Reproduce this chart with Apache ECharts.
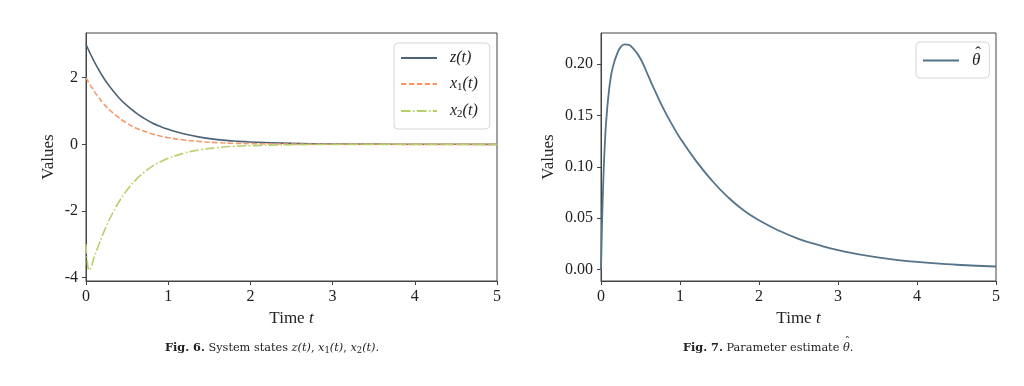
<!DOCTYPE html>
<html>
<head>
<meta charset="utf-8">
<script src="https://cdn.jsdelivr.net/npm/echarts@6/dist/echarts.min.js"></script>
<style>
html,body{margin:0;padding:0;background:#fff;}
#c{width:1024px;height:386px;}
</style>
</head>
<body>
<div id="c"></div>
<script>
// ---- data ----
const tState = [0,0.02,0.04,0.06,0.08,0.1,0.15,0.2,0.25,0.3,0.4,0.5,0.6,0.7,0.8,0.9,1.0,1.2,1.4,1.6,1.8,2.0,2.5,3,3.5,4,4.5,5];
const zVals  = [3.00,2.89,2.78,2.68,2.58,2.48,2.26,2.05,1.86,1.70,1.40,1.16,0.96,0.79,0.65,0.54,0.45,0.31,0.21,0.14,0.10,0.07,0.03,0.01,0.005,0.002,0.001,0.0];
const x1Vals = [2.00,1.91,1.83,1.74,1.67,1.59,1.42,1.26,1.12,1.00,0.80,0.63,0.50,0.40,0.32,0.25,0.20,0.13,0.08,0.05,0.03,0.02,0.006,0.002,0.001,0,0,0];
const x2Vals = [-3.00,-3.62,-3.78,-3.70,-3.55,-3.38,-3.05,-2.73,-2.44,-2.18,-1.73,-1.37,-1.08,-0.85,-0.67,-0.53,-0.42,-0.26,-0.16,-0.10,-0.06,-0.04,-0.012,-0.004,-0.001,0,0,0];

const tTheta = [0,0.01,0.02,0.03,0.04,0.05,0.06,0.08,0.1,0.12,0.15,0.2,0.25,0.3,0.35,0.4,0.45,0.5,0.55,0.6,0.7,0.8,0.9,1.0,1.2,1.4,1.6,1.8,2.0,2.25,2.5,2.75,3,3.5,4,4.5,5];
const thetaVals = [0,0.035,0.064,0.088,0.108,0.124,0.138,0.158,0.173,0.185,0.197,0.209,0.2165,0.219,0.2185,0.2155,0.211,0.205,0.197,0.188,0.171,0.155,0.141,0.128,0.106,0.087,0.071,0.058,0.048,0.038,0.030,0.024,0.019,0.012,0.0075,0.0048,0.0031];

const xTicks = [0,1,2,3,4,5];
const yTicksLeft = [-4,-2,0,2];
const yTicksRight = [0,0.05,0.10,0.15,0.20];

const pair = (t, v) => t.map((x, i) => [x, v[i]]);

const SERIF = '"Liberation Serif","DejaVu Serif",serif';
const CAP = '"DejaVu Serif","Liberation Serif",serif';
const CAPSIZE = 11.3;
const CAPTOP = 343;
const C_Z = '#4c6377', C_X1 = '#f7986a', C_X2 = '#b7d06a', C_TH = '#557489';

function xAxisCfg(gi) {
  return {
    type: 'value', gridIndex: gi, min: 0, max: 5,
    name: 'Time {i|t}', nameLocation: 'middle', nameGap: 28,
    nameTextStyle: { fontFamily: SERIF, fontSize: 17, color: '#222',
      rich: { i: { fontFamily: SERIF, fontStyle: 'italic', fontSize: 17, color: '#222' } } },
    axisLine: { show: true, onZero: false, lineStyle: { color: '#444', width: 1 } },
    axisTick: { show: true, length: 4, customValues: xTicks, lineStyle: { color: '#444' } },
    axisLabel: { customValues: xTicks, fontFamily: SERIF, fontSize: 16, color: '#222', margin: 8 },
    splitLine: { show: false }
  };
}
function yAxisCfg(gi, min, max, ticks, fmt, gap) {
  return {
    type: 'value', gridIndex: gi, min: min, max: max,
    name: 'Values', nameLocation: 'middle', nameGap: gap, nameRotate: 90,
    nameTextStyle: { fontFamily: SERIF, fontSize: 17, color: '#222' },
    axisLine: { show: true, onZero: false, lineStyle: { color: '#444', width: 1 } },
    axisTick: { show: true, length: 4, customValues: ticks, lineStyle: { color: '#444' } },
    axisLabel: { customValues: ticks, formatter: fmt, fontFamily: SERIF, fontSize: 16, color: '#222', margin: 8 },
    splitLine: { show: false }
  };
}

// measure caption text to place the hat over theta
const mctx = document.createElement('canvas').getContext('2d');
function tw(font, s) { mctx.font = font; return mctx.measureText(s).width; }
const capLeft2 = 683;
const thetaX = capLeft2 + tw('bold ' + CAPSIZE + 'px ' + CAP, 'Fig. 7.') + tw(CAPSIZE + 'px ' + CAP, ' Parameter estimate ');
const thetaW = tw('italic ' + CAPSIZE + 'px ' + CAP, 'θ');

const chart = echarts.init(document.getElementById('c'), null, { renderer: 'canvas' });
const legendText = {
  fontFamily: SERIF, fontSize: 15, color: '#222', padding: [0, 0, 0, 8],
  rich: {
    i: { fontFamily: SERIF, fontStyle: 'italic', fontSize: 16, color: '#222' },
    s: { fontFamily: SERIF, fontSize: 11, color: '#222', padding: [7, 0, 0, 0] },
    h: { fontFamily: SERIF, fontStyle: 'italic', fontSize: 17, color: '#222' }
  }
};
const legendCommon = {
  orient: 'vertical', itemWidth: 36, itemHeight: 12,
  backgroundColor: '#fff', borderColor: '#d6d6d6', borderWidth: 1, borderRadius: 4,
  itemStyle: { opacity: 0, borderWidth: 0 },
  textStyle: legendText
};
chart.setOption({
  animation: false,
  backgroundColor: '#fff',
  grid: [
    { left: 86, top: 33, width: 411, height: 248, show: true, borderColor: '#444', borderWidth: 1, backgroundColor: 'transparent' },
    { left: 601, top: 33, width: 395, height: 248, show: true, borderColor: '#444', borderWidth: 1, backgroundColor: 'transparent' }
  ],
  xAxis: [xAxisCfg(0), xAxisCfg(1)],
  yAxis: [
    yAxisCfg(0, -4.1, 3.34, yTicksLeft, v => String(v), 29),
    yAxisCfg(1, -0.011, 0.230, yTicksRight, v => v.toFixed(2), 44)
  ],
  legend: [
    Object.assign({}, legendCommon, {
      data: ['z', 'x1', 'x2'], left: 394, top: 43, itemGap: 10,
      padding: [7, 12, 9, 6],
      formatter: n => n === 'z' ? '{i|z}{i|(t)}' : (n === 'x1' ? '{i|x}{s|1}{i|(t)}' : '{i|x}{s|2}{i|(t)}')
    }),
    Object.assign({}, legendCommon, {
      data: ['theta'], left: 916, top: 42,
      padding: [10, 9, 9, 6],
      formatter: () => '{h|θ}'
    })
  ],
  series: [
    { name: 'z', type: 'line', xAxisIndex: 0, yAxisIndex: 0, data: pair(tState, zVals),
      symbol: 'none', smooth: 0.5, lineStyle: { color: C_Z, width: 1.6 }, itemStyle: { color: C_Z } },
    { name: 'x1', type: 'line', xAxisIndex: 0, yAxisIndex: 0, data: pair(tState, x1Vals),
      symbol: 'none', smooth: 0.5, lineStyle: { color: C_X1, width: 1.6, type: [5.5, 2.4] }, itemStyle: { color: C_X1 } },
    { name: 'x2', type: 'line', xAxisIndex: 0, yAxisIndex: 0, data: pair(tState, x2Vals),
      symbol: 'none', smooth: 0.5, lineStyle: { color: C_X2, width: 1.6, type: [9.6, 2.4, 1.5, 2.4] }, itemStyle: { color: C_X2 } },
    { name: 'theta', type: 'line', xAxisIndex: 1, yAxisIndex: 1, data: pair(tTheta, thetaVals),
      symbol: 'none', smooth: 0.5, lineStyle: { color: C_TH, width: 1.8 }, itemStyle: { color: C_TH } }
  ],
  graphic: [
    { type: 'text', left: 165, top: CAPTOP, style: {
      text: '{b|Fig. 6.} System states {i|z}{i|(t)}, {i|x}{s|1}{i|(t)}, {i|x}{s|2}{i|(t)}.',
      fontFamily: CAP, fontSize: CAPSIZE, fill: '#222',
      rich: { b: { fontWeight: 'bold', fontFamily: CAP, fontSize: CAPSIZE },
              i: { fontStyle: 'italic', fontFamily: CAP, fontSize: CAPSIZE },
              s: { fontFamily: CAP, fontSize: 8.5, padding: [5, 0, 0, 0] } } } },
    { type: 'text', left: capLeft2, top: CAPTOP, style: {
      text: '{b|Fig. 7.} Parameter estimate {i|θ}.',
      fontFamily: CAP, fontSize: CAPSIZE, fill: '#222',
      rich: { b: { fontWeight: 'bold', fontFamily: CAP, fontSize: CAPSIZE },
              i: { fontStyle: 'italic', fontFamily: CAP, fontSize: CAPSIZE } } } },
    // circumflex accents over theta (caption and legend)
    { type: 'text', z: 100, zlevel: 1, x: thetaX + thetaW / 2 + 1, y: CAPTOP - 6, style: {
      text: 'ˆ', fontFamily: CAP, fontSize: CAPSIZE, fill: '#222', align: 'center', verticalAlign: 'top' } },
    { type: 'text', z: 100, zlevel: 1, x: 978, y: 45, style: {
      text: 'ˆ', fontFamily: SERIF, fontSize: 17, fill: '#222', align: 'center', verticalAlign: 'top' } }
  ]
});
</script>
</body>
</html>
